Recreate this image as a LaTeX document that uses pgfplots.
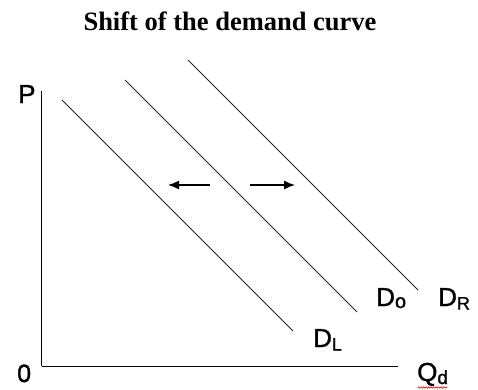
\documentclass[border=0pt]{standalone}
\usepackage{fontspec}
\setmainfont{Liberation Serif}
\newfontfamily\arial{Liberation Sans}[FakeBold=1.2]
\usepackage{pgfplots}
\pgfplotsset{compat=1.18}
\usetikzlibrary{arrows.meta,decorations.pathmorphing}
\begin{document}
\begin{tikzpicture}
\path[use as bounding box] (-42pt,-23pt) rectangle (436pt,366pt);
\begin{axis}[
  at={(0pt,0pt)}, anchor=south west,
  scale only axis, width=356pt, height=275pt,
  xmin=0, xmax=356, ymin=0, ymax=275,
  axis lines=left, axis line style={-, line width=1pt, black},
  xtick=\empty, ytick=\empty,
  clip=false,
]
% demand curves
\addplot[black!85, line width=0.8pt] coordinates {(20,266) (251,35)};
\addplot[black!85, line width=0.8pt] coordinates {(83,286) (315,54)};
\addplot[black!85, line width=0.8pt] coordinates {(146,306) (376,76)};
% shift arrows
\addplot[black, line width=1.4pt, -{Latex[length=11pt,width=9pt]}] coordinates {(168,181) (126,181)};
\addplot[black, line width=1.4pt, -{Latex[length=11pt,width=9pt]}] coordinates {(208,181) (253,181)};
% labels
\node[anchor=base west, inner sep=0pt, font=\arial\fontsize{26}{28}\selectfont] at (axis cs:271,19) {D\raisebox{-3.5pt}{\fontsize{18}{19}\selectfont L}};
\node[anchor=base west, inner sep=0pt, font=\arial\fontsize{26}{28}\selectfont] at (axis cs:334,60) {D\raisebox{-2pt}{\fontsize{20}{20}\selectfont o}};
\node[anchor=base west, inner sep=0pt, font=\arial\fontsize{26}{28}\selectfont] at (axis cs:396,60) {D\raisebox{-3.5pt}{\fontsize{18}{19}\selectfont R}};
\node[anchor=base west, inner sep=0pt, font=\arial\fontsize{26}{28}\selectfont] at (axis cs:375,-15) {Q\raisebox{-3pt}{\fontsize{19}{19}\selectfont d}};
\node[anchor=base west, inner sep=0pt, font=\arial\fontsize{26}{28}\selectfont] at (axis cs:-24,263) {P};
\node[anchor=base west, inner sep=0pt, font=\arial\fontsize{25}{28}\selectfont] at (axis cs:-25,-16) {0};
\draw[red!80!black, line width=0.5pt, decorate, decoration={zigzag, amplitude=0.8pt, segment length=2.5pt}] (axis cs:376,-21.5) -- (axis cs:405,-21.5);
% title
\node[anchor=base, inner sep=0pt, font=\bfseries\fontsize{26.5}{30}\selectfont] at (axis cs:188,335) {Shift of the demand curve};
\end{axis}
\end{tikzpicture}
\end{document}
